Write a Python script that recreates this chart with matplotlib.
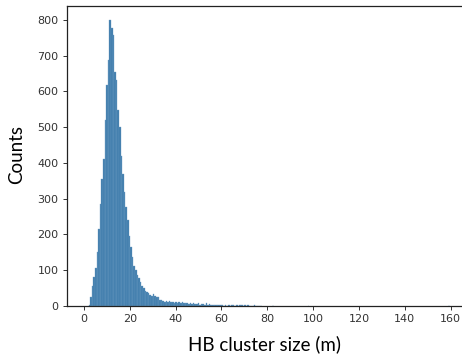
import numpy as np
import matplotlib
matplotlib.use("Agg")
import matplotlib.pyplot as plt

# histogram of HB cluster sizes, bins of 0.7 m starting at 2.0 m
bin_start = 2.0
bin_width = 0.7
counts = [4, 25, 55, 80, 105, 150, 215, 285, 355, 410,
          520, 618, 688, 800, 778, 758, 655, 632, 548, 500,
          420, 370, 320, 278, 240, 195, 165, 138, 112, 100,
          88, 78, 66, 55, 50, 42, 40, 35, 31, 29,
          34, 27, 24, 25, 18, 16, 14, 12, 14, 11,
          13, 10, 12, 9, 11, 8, 12, 9, 10, 8,
          7, 9, 6, 8, 5, 7, 6, 5, 8, 4,
          6, 5, 4, 7, 3, 5, 4, 3, 4, 2,
          3, 4, 2, 3, 1, 2, 1, 3, 1, 2,
          2, 1, 3, 1, 2, 3, 1, 2, 1, 2,
          1, 0, 1, 2, 0, 1, 0, 1]
# a few isolated large clusters
tail_size = [82.2, 97.6, 158.9]
tail_counts = [1, 1, 1]

x_ticks = [0, 20, 40, 60, 80, 100, 120, 140, 160]
y_ticks = [0, 100, 200, 300, 400, 500, 600, 700, 800]

edges = bin_start + bin_width * np.arange(len(counts))

fig = plt.figure(figsize=(4.62, 3.6), dpi=100)
ax = fig.add_axes([67 / 462, 54 / 360, 395 / 462, 300 / 360])

face = "#3f7cab"
ax.bar(edges, counts, width=bin_width, align="edge",
       color=face, edgecolor="#6c9cc4", linewidth=0.25)
ax.bar(tail_size, tail_counts, width=bin_width, align="edge",
       color=face, edgecolor="#6c9cc4", linewidth=0.25)

ax.set_xlim(-7.4, 165)
ax.set_ylim(0, 839)
ax.set_xticks(x_ticks)
ax.set_yticks(y_ticks)
ax.spines["right"].set_visible(False)
ax.tick_params(labelsize=8, colors="#333333", length=3, width=0.7, pad=3)
for sp in ax.spines.values():
    sp.set_linewidth(0.9)
    sp.set_color("#222222")

ax.set_xlabel("HB cluster size (m)", fontsize=13.5, family="Lato", labelpad=8)
ax.set_ylabel("Counts", fontsize=13.5, family="Lato")
ax.yaxis.set_label_coords(-0.106, 0.505)

fig.savefig("out.png", dpi=100)
